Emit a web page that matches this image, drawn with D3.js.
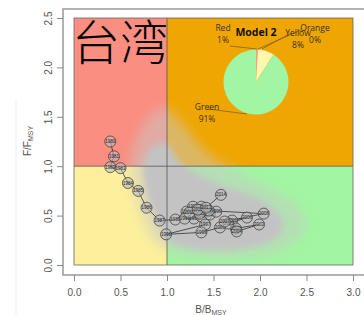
<!DOCTYPE html>
<html lang="zh">
<head>
<meta charset="UTF-8">
<title>Kobe plot</title>
<script src="https://d3js.org/d3.v7.min.js"></script>
<style>
  body { margin: 0; background: #fff; }
  svg { display: block; }
  .tick text { font-family: "Liberation Sans", Arial, sans-serif; font-size: 10px; fill: #555; }
  .tick line { stroke: #888; }
</style>
</head>
<body>
<svg id="kobe" width="364" height="315"></svg>
<script>
// trajectory (B/Bmsy, F/Fmsy) by year
const years = [1980, 1981, 1982, 1983, 1984, 1985, 1986, 1987, 1988, 1989,
               1990, 1991, 1992, 1993, 1994, 1995, 1996, 1997, 1998, 1999,
               2000, 2001, 2002, 2003, 2004, 2005, 2006, 2007, 2008, 2009,
               2010, 2011, 2012, 2013, 2014];
const bRatio = [0.39, 0.43, 0.39, 0.50, 0.58, 0.69, 0.78, 0.92, 1.09, 1.21,
                1.28, 1.37, 1.29, 1.19, 1.37, 1.46, 1.53, 1.41, 0.99, 1.37,
                1.57, 1.70, 1.74, 1.99, 1.75, 1.66, 1.86, 1.62, 2.04, 1.45,
                1.35, 1.24, 1.33, 1.42, 1.58];
const fRatio = [1.25, 1.10, 0.99, 0.98, 0.83, 0.75, 0.58, 0.45, 0.46, 0.54,
                0.59, 0.59, 0.47, 0.47, 0.49, 0.51, 0.54, 0.41, 0.31, 0.33,
                0.38, 0.45, 0.37, 0.41, 0.34, 0.42, 0.48, 0.44, 0.52, 0.55,
                0.52, 0.53, 0.56, 0.58, 0.71];

// outline of the uncertainty cloud (dense core and sparse halo)
const cloudCore = [[0.74, 1.02], [0.85, 1.2], [1.0, 1.22], [1.12, 1.06], [1.3, 0.93],
                   [1.55, 0.82], [1.85, 0.72], [2.1, 0.6], [2.24, 0.44], [2.18, 0.28],
                   [1.95, 0.19], [1.65, 0.15], [1.35, 0.16], [1.12, 0.2], [1.0, 0.26],
                   [0.94, 0.36], [0.86, 0.52], [0.78, 0.74]];
const cloudHalo = [[0.6, 1.05], [0.72, 1.38], [0.95, 1.6], [1.18, 1.42], [1.45, 1.12],
                   [1.9, 0.88], [2.38, 0.62], [2.48, 0.35], [2.2, 0.14], [1.7, 0.07],
                   [1.2, 0.1], [0.88, 0.22], [0.72, 0.5], [0.63, 0.8]];

// pie: share of final year samples in each quadrant
const pieLabels = ["Red", "Yellow", "Orange", "Green"];
const pieValues = [1, 8, 0, 91];

const xTicks = [0, 0.5, 1, 1.5, 2, 2.5, 3];
const yTicks = [0, 0.5, 1, 1.5, 2, 2.5];

const svg = d3.select("#kobe");
const x = d3.scaleLinear().domain([0, 3]).range([74, 353]);
const y = d3.scaleLinear().domain([0, 2.5]).range([265, 18]);

// faint page border line
svg.append("line").attr("x1", 16).attr("x2", 16).attr("y1", 100).attr("y2", 315)
    .attr("stroke", "#eee");

// quadrants
const quads = [
    {x0: 0, x1: 1, y0: 1, y1: 2.5, c: "#FA8E80"},
    {x0: 1, x1: 3, y0: 1, y1: 2.5, c: "#EFA602"},
    {x0: 0, x1: 1, y0: 0, y1: 1, c: "#FDF09C"},
    {x0: 1, x1: 3, y0: 0, y1: 1, c: "#A2F5A2"}
];
svg.selectAll("rect.quad").data(quads).enter().append("rect")
    .attr("class", "quad")
    .attr("x", d => x(d.x0)).attr("y", d => y(d.y1))
    .attr("width", d => x(d.x1) - x(d.x0)).attr("height", d => y(d.y0) - y(d.y1))
    .attr("fill", d => d.c);

const defs = svg.append("defs");
defs.append("clipPath").attr("id", "plotClip")
    .append("rect").attr("x", x(0)).attr("y", y(2.5))
    .attr("width", x(3) - x(0)).attr("height", y(0) - y(2.5));
const blur = defs.append("filter").attr("id", "blur")
    .attr("x", "-20%").attr("y", "-20%").attr("width", "140%").attr("height", "140%");
blur.append("feGaussianBlur").attr("stdDeviation", 6);
const blur2 = defs.append("filter").attr("id", "blur2")
    .attr("x", "-20%").attr("y", "-20%").attr("width", "140%").attr("height", "140%");
blur2.append("feGaussianBlur").attr("stdDeviation", 3);

const plot = svg.append("g").attr("clip-path", "url(#plotClip)");

// cloud
const cloudLine = d3.line().x(d => x(d[0])).y(d => y(d[1])).curve(d3.curveCardinalClosed);
plot.append("path").attr("d", cloudLine(cloudHalo))
    .attr("fill", "#c8c8c8").attr("opacity", 0.5).attr("filter", "url(#blur)");
plot.append("path").attr("d", cloudLine(cloudCore))
    .attr("fill", "#c3c3c3").attr("opacity", 1).attr("filter", "url(#blur2)");

// quadrant borders
plot.append("line").attr("x1", x(1)).attr("x2", x(1)).attr("y1", y(0)).attr("y2", y(2.5))
    .attr("stroke", "#555").attr("stroke-width", 0.8);
plot.append("line").attr("x1", x(0)).attr("x2", x(3)).attr("y1", y(1)).attr("y2", y(1))
    .attr("stroke", "#555").attr("stroke-width", 0.8);
svg.append("rect").attr("x", x(0)).attr("y", y(2.5))
    .attr("width", x(3) - x(0)).attr("height", y(0) - y(2.5))
    .attr("fill", "none").attr("stroke", "#666").attr("stroke-width", 0.8);

// title
plot.append("text").attr("x", x(0) - 2).attr("y", 60)
    .attr("font-family", "'Noto Sans CJK SC', sans-serif").attr("font-weight", 300)
    .attr("font-size", 48).attr("fill", "#000").text("台湾");

// trajectory
const traj = years.map((yr, i) => ({year: yr, b: bRatio[i], f: fRatio[i]}));
plot.append("path")
    .attr("d", d3.line().x(d => x(d.b)).y(d => y(d.f))(traj))
    .attr("fill", "none").attr("stroke", "#333").attr("stroke-width", 0.8);
const pts = plot.selectAll("g.pt").data(traj).enter().append("g")
    .attr("transform", d => `translate(${x(d.b)},${y(d.f)})`);
pts.append("circle").attr("r", 5.5)
    .attr("fill", "#bdbdbd").attr("fill-opacity", 0.6)
    .attr("stroke", "#333").attr("stroke-width", 0.7);
pts.append("text").attr("text-anchor", "middle").attr("dy", "0.35em")
    .attr("font-family", "'Liberation Sans', Arial, sans-serif").attr("font-size", 4.5)
    .attr("fill", "#222").text(d => d.year);

// pie inset
const pieCx = 256, pieCy = 82, pieR = 32.5;
const pieColors = ["#F2A08C", "#FFF6B0", "#EFA602", "#A2F5A2"];
const arcs = d3.pie().sort(null)(pieValues);
const pg = svg.append("g").attr("transform", `translate(${pieCx},${pieCy})`);
pg.selectAll("path").data(arcs).enter().append("path")
    .attr("d", d3.arc().innerRadius(0).outerRadius(pieR))
    .attr("fill", (d, i) => pieColors[i]);

const leaders = [
    [[230, 46], [257, 49]],
    [[291, 33], [262, 49]],
    [[301, 30], [258, 49]],
    [[208, 109], [247, 114]]
];
svg.selectAll("line.lead").data(leaders).enter().append("line")
    .attr("x1", d => d[0][0]).attr("y1", d => d[0][1])
    .attr("x2", d => d[1][0]).attr("y2", d => d[1][1])
    .attr("stroke", "#7a5a20").attr("stroke-width", 0.7);

const labelPos = [[223, 31], [298, 36], [315, 31], [207, 110]];
const pl = svg.selectAll("text.plab").data(pieLabels).enter().append("text")
    .attr("text-anchor", "middle")
    .attr("font-family", "'Open Sans', sans-serif").attr("font-size", 8.5)
    .attr("fill", "#3a3020");
pl.append("tspan").attr("x", (d, i) => labelPos[i][0]).attr("y", (d, i) => labelPos[i][1])
    .text(d => d);
pl.append("tspan").attr("x", (d, i) => labelPos[i][0]).attr("y", (d, i) => labelPos[i][1] + 12)
    .text((d, i) => pieValues[i] + "%");

svg.append("text").attr("x", 256).attr("y", 36).attr("text-anchor", "middle")
    .attr("font-family", "'Open Sans', sans-serif").attr("font-weight", "bold")
    .attr("font-size", 10.5).attr("fill", "#111").text("Model 2");

// outer box
svg.append("rect").attr("x", 63).attr("y", 9).attr("width", 310).attr("height", 266)
    .attr("fill", "none").attr("stroke", "#999").attr("stroke-width", 1.5);

// axes
const xAxis = svg.append("g").attr("transform", "translate(0,275)")
    .call(d3.axisBottom(x).tickValues(xTicks).tickFormat(d3.format(".1f")).tickSize(6).tickPadding(8));
xAxis.select(".domain").remove();

const yAxis = svg.append("g").attr("transform", "translate(63,0)")
    .call(d3.axisLeft(y).tickValues(yTicks).tickFormat(d3.format(".1f")).tickSize(6));
yAxis.select(".domain").remove();
yAxis.selectAll("text")
    .attr("transform", "rotate(-90)")
    .attr("x", 0).attr("y", -11.5).attr("dy", 0)
    .style("text-anchor", "middle");

// axis titles
const xt = svg.append("text").attr("x", 211).attr("y", 313).attr("text-anchor", "middle")
    .attr("font-family", "'Liberation Sans', Arial, sans-serif").attr("font-size", 10).attr("fill", "#555");
xt.append("tspan").text("B/B");
xt.append("tspan").attr("font-size", 7).attr("dy", 2).text("MSY");

const yt = svg.append("text").attr("transform", "translate(31,141) rotate(-90)").attr("text-anchor", "middle")
    .attr("font-family", "'Liberation Sans', Arial, sans-serif").attr("font-size", 10).attr("fill", "#555");
yt.append("tspan").text("F/F");
yt.append("tspan").attr("font-size", 7).attr("dy", 2).text("MSY");
</script>
</body>
</html>
